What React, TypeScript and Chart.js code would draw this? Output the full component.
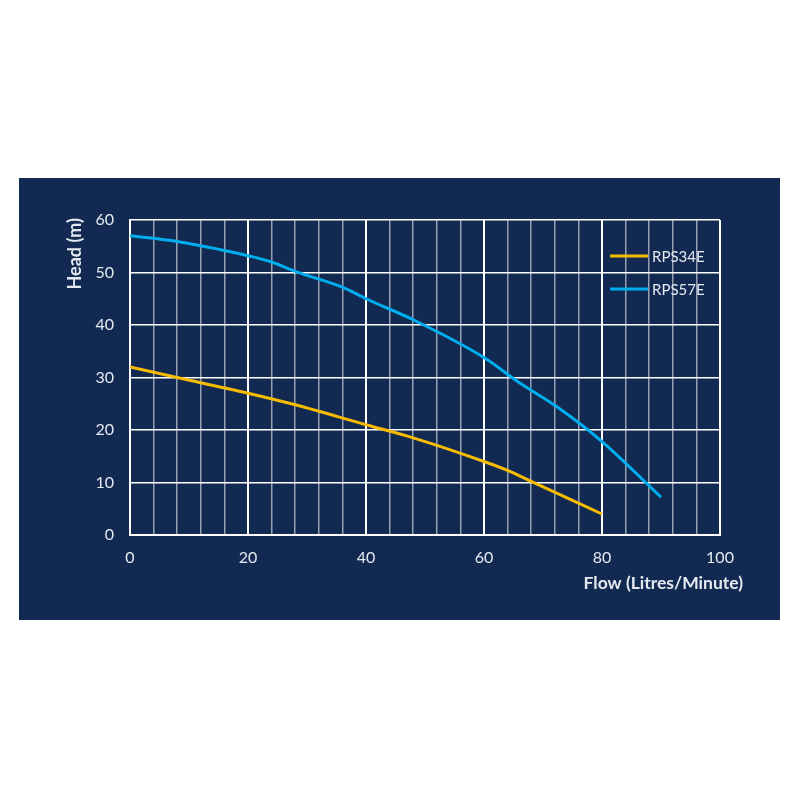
import React, { useEffect, useRef } from "react";
import { Chart, registerables } from "chart.js";

Chart.register(...registerables);

// Pump curves: flow (L/min) vs head (m)
const seriesNames = ["RPS34E", "RPS57E"];
const seriesColors = ["#f7bb00", "#00aeef"];

const rps34Flow = [0, 8, 20, 28, 40, 48, 60, 64, 68, 80];
const rps34Head = [32, 30, 27, 24.8, 21, 18.5, 14, 12.3, 10.2, 4];

const rps57Flow = [0, 8, 16, 20, 24, 28, 36, 40, 48, 60, 66, 72, 80, 90];
const rps57Head = [57, 55.9, 54.2, 53.2, 52, 50.2, 47.2, 45, 41, 33.8, 29, 24.7, 17.8, 7.2];

const xTickLabels = [0, 20, 40, 60, 80, 100];
const yTickLabels = [0, 10, 20, 30, 40, 50, 60];

const xTitle = "Flow (Litres/Minute)";
const yTitle = "Head (m)";

const BG = "#122a51";
const TEXT = "#e4e9f0";
const FONT = "Lato, 'Noto Sans', sans-serif";

const toPoints = (xs: number[], ys: number[]) => xs.map((x, i) => ({ x, y: ys[i] }));

// legend inside the plot and the axis titles
const overlayPlugin = {
  id: "overlay",
  afterDraw(chart: Chart) {
    const ctx = chart.ctx;
    const area = chart.chartArea;
    ctx.save();
    ctx.font = `15px ${FONT}`;
    ctx.textBaseline = "middle";
    ctx.textAlign = "left";
    chart.data.datasets.forEach((ds: any, i: number) => {
      const y = area.top + 36 + i * 33;
      const x0 = area.right - 110;
      ctx.strokeStyle = ds.borderColor;
      ctx.lineWidth = 3;
      ctx.beginPath();
      ctx.moveTo(x0, y);
      ctx.lineTo(x0 + 38, y);
      ctx.stroke();
      ctx.fillStyle = TEXT;
      ctx.fillText(ds.label, x0 + 42, y + 1);
    });

    ctx.font = `bold 17.5px ${FONT}`;
    ctx.fillStyle = TEXT;
    ctx.textAlign = "right";
    ctx.fillText(xTitle, area.right + 23, area.bottom + 48);

    ctx.font = `bold 18px ${FONT}`;
    ctx.translate(area.left - 55, area.top - 2);
    ctx.rotate(-Math.PI / 2);
    ctx.textAlign = "right";
    ctx.fillText(yTitle, 0, 0);
    ctx.restore();
  },
};

const App: React.FC = () => {
  const canvasRef = useRef<HTMLCanvasElement | null>(null);
  const chartRef = useRef<Chart | null>(null);

  useEffect(() => {
    const ctx = canvasRef.current?.getContext("2d");
    if (!ctx) return;
    if (chartRef.current) chartRef.current.destroy();

    const series = [toPoints(rps34Flow, rps34Head), toPoints(rps57Flow, rps57Head)];

    chartRef.current = new Chart(ctx, {
      type: "line",
      data: {
        datasets: series.map((pts, i) => ({
          label: seriesNames[i],
          data: pts,
          borderColor: seriesColors[i],
          backgroundColor: seriesColors[i],
          borderWidth: 3,
          pointRadius: 0,
          cubicInterpolationMode: "monotone" as const,
          fill: false,
        })),
      },
      options: {
        animation: false,
        responsive: true,
        maintainAspectRatio: false,
        layout: { padding: { top: 42, right: 60, left: 0, bottom: 0 } },
        plugins: {
          legend: { display: false },
          tooltip: { enabled: false },
        },
        scales: {
          x: {
            type: "linear",
            min: 0,
            max: 100,
            afterFit: (scale: any) => {
              scale.height = 85;
            },
            ticks: {
              stepSize: 4,
              color: TEXT,
              padding: 13,
              font: { family: FONT, size: 16 },
              maxRotation: 0,
              autoSkip: false,
              callback: (v: any) => (xTickLabels.includes(Number(v)) ? String(v) : ""),
            },
            grid: {
              drawTicks: false,
              color: (c: any) =>
                c.tick && c.tick.value % 20 === 0 ? "#ffffff" : "rgba(255,255,255,0.55)",
              lineWidth: (c: any) => (c.tick && c.tick.value % 20 === 0 ? 2 : 1.5),
            },
            border: { color: "#ffffff", width: 2 },
          },
          y: {
            min: 0,
            max: 60,
            afterFit: (scale: any) => {
              scale.width = 111;
            },
            ticks: {
              stepSize: 10,
              color: TEXT,
              padding: 16,
              font: { family: FONT, size: 16 },
              callback: (v: any) => (yTickLabels.includes(Number(v)) ? String(v) : ""),
            },
            grid: {
              drawTicks: false,
              color: "#ffffff",
              lineWidth: 1.5,
            },
            border: { color: "#ffffff", width: 2 },
          },
        },
      },
      plugins: [overlayPlugin],
    });

    return () => {
      if (chartRef.current) {
        chartRef.current.destroy();
        chartRef.current = null;
      }
    };
  }, []);

  return (
    <div style={{ paddingTop: 170, paddingLeft: 11 }}>
      <div style={{ position: "relative", width: 761, height: 442, background: BG }}>
        <canvas ref={canvasRef} />
      </div>
    </div>
  );
};

export default App;
